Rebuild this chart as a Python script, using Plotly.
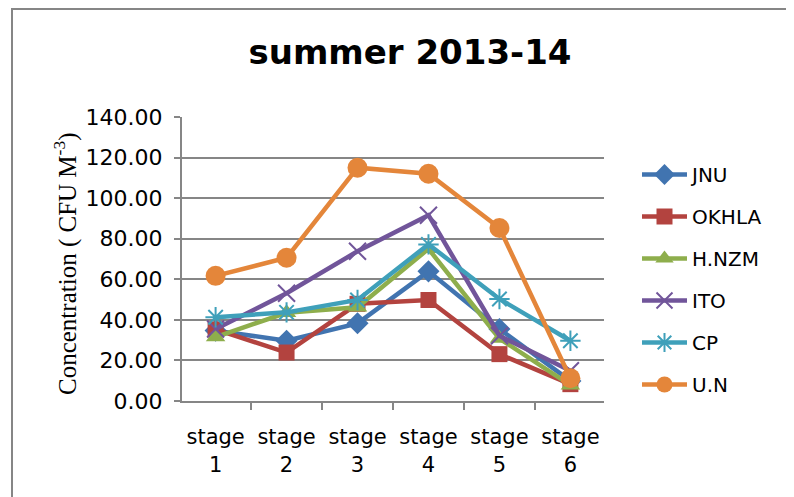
import plotly.graph_objects as go

stages = ["stage<br>1", "stage<br>2", "stage<br>3", "stage<br>4", "stage<br>5", "stage<br>6"]

jnu = [34.7, 29.7, 38.3, 63.9, 35.5, 9.9]
okhla = [35.3, 23.9, 47.9, 49.8, 23.1, 8.3]
hnzm = [31.5, 43.5, 46.2, 75.0, 30.8, 7.8]
ito = [35.5, 53.1, 73.8, 91.6, 32.2, 14.9]
cp = [41.3, 43.7, 49.8, 77.2, 50.3, 29.7]
un = [61.7, 70.6, 115.0, 112.0, 85.3, 11.2]

series = [
    ("JNU", jnu, "#4174B0", "diamond", 17, 0),
    ("OKHLA", okhla, "#B3433F", "square", 16, 0),
    ("H.NZM", hnzm, "#8EAE4C", "triangle-up", 17, 0),
    ("ITO", ito, "#71559A", "x-thin", 17, 2),
    ("CP", cp, "#3FA0BA", "asterisk", 17, 2),
    ("U.N", un, "#E4863A", "circle", 20, 0),
]

fig = go.Figure()
for i, (name, vals, color, sym, size, lw) in enumerate(series):
    marker = dict(symbol=sym, size=size, color=color)
    if lw:
        marker["line"] = dict(color=color, width=lw)
    fig.add_trace(go.Scatter(
        x=stages, y=vals, name=name, mode="lines+markers",
        line=dict(color=color, width=4.5), marker=marker,
        legendgroup=f"g{i}",
    ))

# page is offset by the browser's 8px body margin
OFF = 8
W, H = 794 - OFF, 497 - OFF
L, R, T, B = 182 - OFF, 794 - 604, 117 - OFF, 497 - 401
pw, ph = W - L - R, H - T - B

def px(X):  # page x -> paper
    return (X - OFF - L) / pw

def py(Y):  # page y -> paper
    return (H - B - (Y - OFF)) / ph

SANS = "DejaVu Sans"

fig.update_layout(
    width=W, height=H,
    margin=dict(l=L, r=R, t=T, b=B),
    paper_bgcolor="white", plot_bgcolor="white",
    font=dict(family=SANS, color="black"),
    title=dict(text="<b>summer 2013-14</b>", x=(410 - OFF) / W, xanchor="center",
               y=1 - (52 - OFF) / H, yanchor="middle", yref="container",
               font=dict(size=34, family=SANS, color="black")),
    legend=dict(x=px(637), y=py(155), xanchor="left", yanchor="top",
                font=dict(size=20, family=SANS), tracegroupgap=13, itemwidth=45,
                bgcolor="rgba(0,0,0,0)"),
    showlegend=True,
)
fig.update_xaxes(
    type="category", showline=True, linecolor="#868686", linewidth=2,
    ticks="outside", tickson="boundaries", ticklen=7, tickcolor="#868686", tickwidth=2,
    tickfont=dict(size=21, family=SANS), showgrid=False, zeroline=False,
    ticklabelstandoff=16,
)
fig.update_yaxes(
    range=[0, 140], dtick=20, tickformat=".2f",
    showline=True, linecolor="#868686", linewidth=2,
    ticks="outside", ticklen=6, tickcolor="#868686", tickwidth=2,
    showgrid=True, gridcolor="#868686", gridwidth=2, zeroline=False,
    tickfont=dict(size=22, family=SANS), ticklabelstandoff=7,
)
fig.add_annotation(
    text="Concentration ( CFU M<sup>-3</sup>)", textangle=-90,
    xref="paper", yref="paper", x=px(65), y=py(264),
    xanchor="center", yanchor="middle", showarrow=False,
    font=dict(size=25, family="Liberation Serif", color="black"),
)
fig.add_shape(type="rect", xref="paper", yref="paper",
              x0=px(12), x1=px(900),
              y0=py(700), y1=py(9),
              line=dict(color="#868686", width=2), fillcolor="rgba(0,0,0,0)", layer="below")

fig.write_html("out.html")
